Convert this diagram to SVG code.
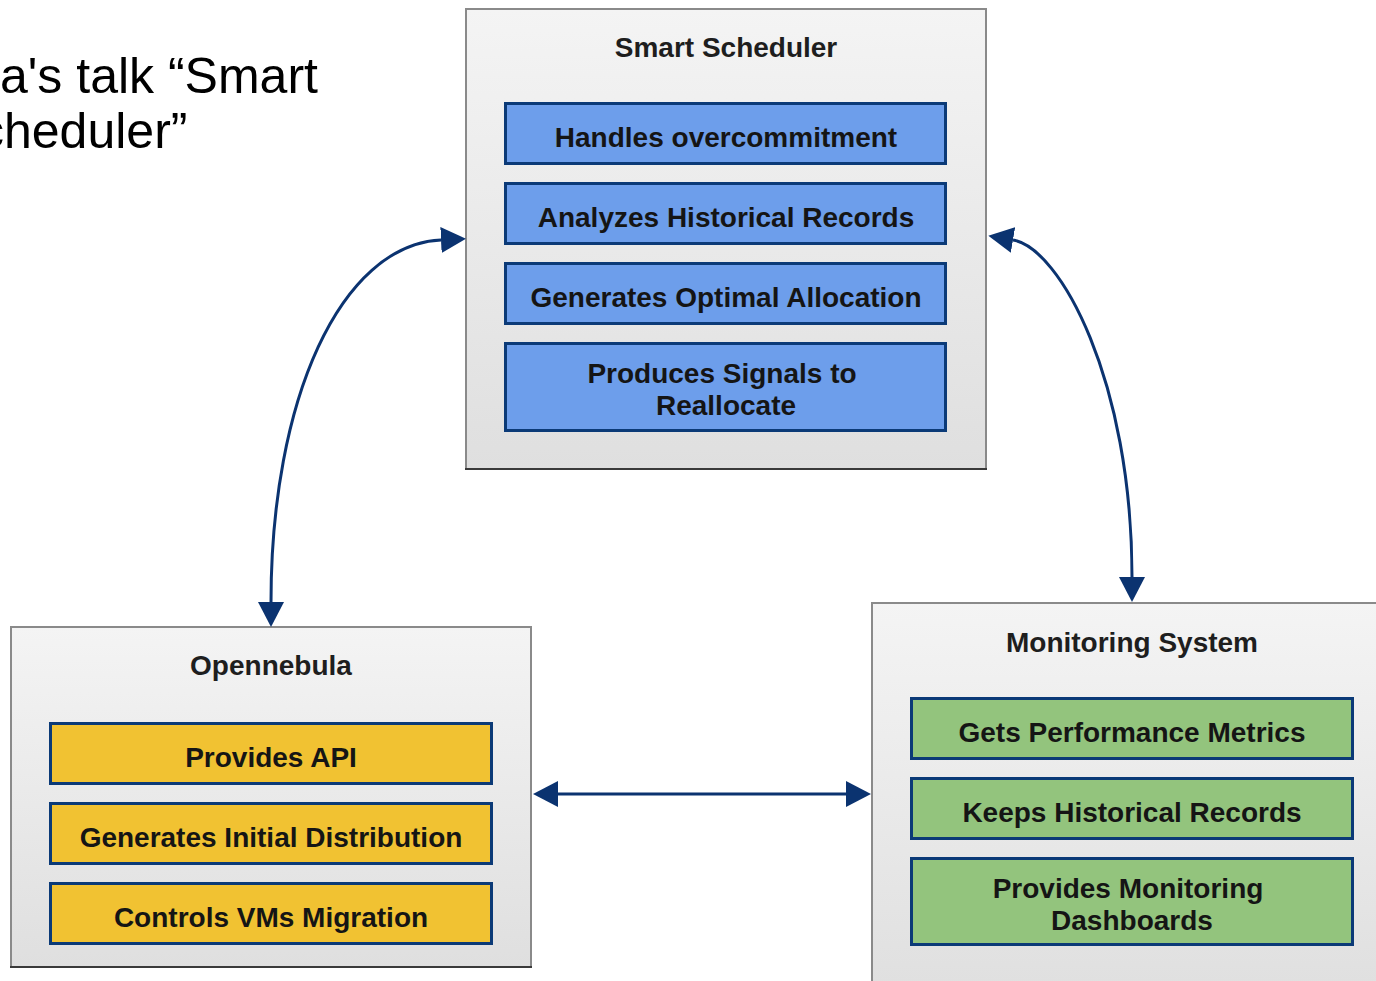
<svg xmlns="http://www.w3.org/2000/svg" width="1376" height="981" viewBox="0 0 1376 981">
<style>
.outer{stroke:#8a8a8a;stroke-width:2;fill:url(#bg)}
.base{stroke:#3a3a3a;stroke-width:2}
.blue{fill:#6d9eeb;stroke:#0b3a77;stroke-width:3}
.yellow{fill:#f1c232;stroke:#0b3a77;stroke-width:3}
.green{fill:#93c47d;stroke:#0b3a77;stroke-width:3}
.title{font-family:"Liberation Sans",Arial,sans-serif;font-weight:bold;font-size:28px;fill:#1e1e1e;text-anchor:middle}
.item{font-family:"Liberation Sans",Arial,sans-serif;font-weight:bold;font-size:28px;fill:#151515;text-anchor:middle}
.conn{fill:none;stroke:#0b3370;stroke-width:3;marker-start:url(#arr);marker-end:url(#arr)}
.big{font-family:"Liberation Sans",Arial,sans-serif;font-size:50px;fill:#000}
</style>
<defs>
<linearGradient id="bg" x1="0" y1="0" x2="0" y2="1">
<stop offset="0" stop-color="#f4f4f4"/>
<stop offset="1" stop-color="#dfdfdf"/>
</linearGradient>
<marker id="arr" markerUnits="userSpaceOnUse" markerWidth="28" markerHeight="30" viewBox="0 -15 28 30" refX="0" refY="0" orient="auto-start-reverse">
<path d="M0,-13 L25,0 L0,13 z" fill="#0b3370"/>
</marker>
</defs>
<rect width="1376" height="981" fill="#ffffff"/>

<g id="caption">
<text class="big" x="0" y="93">a's talk “Smart</text>
<text class="big" x="-21" y="148">cheduler”</text>
</g>

<g id="smart-scheduler">
<rect class="outer" x="466" y="9" width="520" height="460"/>
<line class="base" x1="465" y1="469" x2="987" y2="469"/>
<text class="title" x="726" y="57">Smart Scheduler</text>
<rect class="blue" x="505.5" y="103.5" width="440" height="60"/>
<text class="item" x="726" y="147">Handles overcommitment</text>
<rect class="blue" x="505.5" y="183.5" width="440" height="60"/>
<text class="item" x="726" y="227">Analyzes Historical Records</text>
<rect class="blue" x="505.5" y="263.5" width="440" height="60"/>
<text class="item" x="726" y="307">Generates Optimal Allocation</text>
<rect class="blue" x="505.5" y="343.5" width="440" height="87"/>
<text class="item" x="722" y="383">Produces Signals to</text>
<text class="item" x="726" y="415">Reallocate</text>
</g>

<g id="opennebula">
<rect class="outer" x="11" y="627" width="520" height="340"/>
<line class="base" x1="10" y1="967" x2="532" y2="967"/>
<text class="title" x="271" y="675">Opennebula</text>
<rect class="yellow" x="50.5" y="723.5" width="441" height="60"/>
<text class="item" x="271" y="767">Provides API</text>
<rect class="yellow" x="50.5" y="803.5" width="441" height="60"/>
<text class="item" x="271" y="847">Generates Initial Distribution</text>
<rect class="yellow" x="50.5" y="883.5" width="441" height="60"/>
<text class="item" x="271" y="927">Controls VMs Migration</text>
</g>

<g id="monitoring-system">
<rect class="outer" x="872" y="603" width="530" height="400"/>
<text class="title" x="1132" y="652">Monitoring System</text>
<rect class="green" x="911.5" y="698.5" width="441" height="60"/>
<text class="item" x="1132" y="742">Gets Performance Metrics</text>
<rect class="green" x="911.5" y="778.5" width="441" height="60"/>
<text class="item" x="1132" y="822">Keeps Historical Records</text>
<rect class="green" x="911.5" y="858.5" width="441" height="86"/>
<text class="item" x="1128" y="898">Provides Monitoring</text>
<text class="item" x="1132" y="930">Dashboards</text>
</g>

<g id="connectors">
<path class="conn" d="M271,602 C271,400 340,245 441,240"/>
<path class="conn" d="M1013,240 C1060,248 1132,380 1132,577"/>
<path class="conn" d="M558,794 L846,794"/>
</g>
</svg>
